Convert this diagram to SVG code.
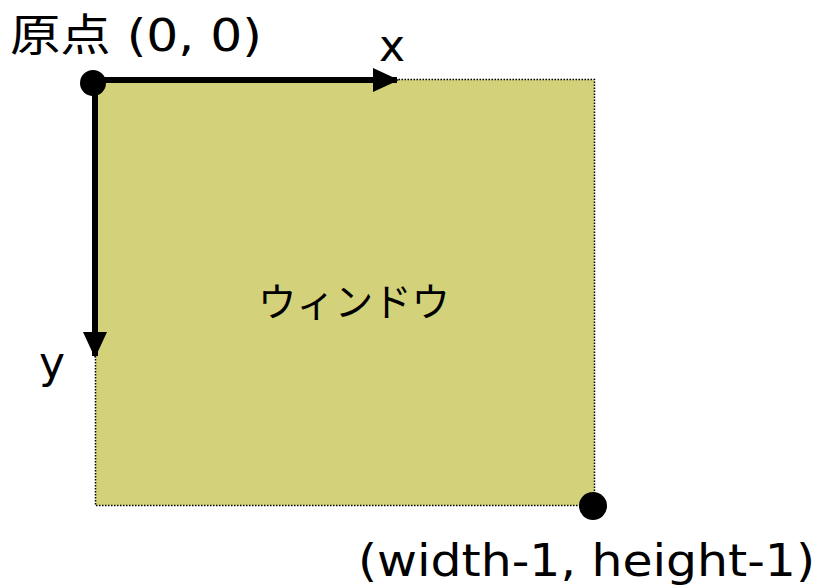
<svg xmlns="http://www.w3.org/2000/svg" width="822" height="585" viewBox="0 0 822 585">
<style>
text{font-family:"DejaVu Sans","Noto Sans CJK JP",sans-serif;fill:#000}
.lbl{font-size:44px}
</style>
<defs>
<marker id="ah" markerUnits="userSpaceOnUse" markerWidth="26" markerHeight="24" refX="24" refY="12" orient="auto">
<path d="M0,0 L26,12 L0,24 Z" fill="#000"/>
</marker>
</defs>
<g id="window">
<rect x="95.5" y="79.5" width="499" height="426" fill="#d3d27a" stroke="#000" stroke-width="1.5" stroke-dasharray="1.5,1.5"/>
<text x="258" y="316" font-size="39" textLength="192" lengthAdjust="spacingAndGlyphs">ウィンドウ</text>
</g>
<g id="connectors">
<line x1="95" y1="80" x2="397" y2="80" stroke="#000" stroke-width="6" marker-end="url(#ah)"/>
<line x1="95" y1="80" x2="95" y2="356" stroke="#000" stroke-width="6" marker-end="url(#ah)"/>
</g>
<g id="origin">
<circle cx="93" cy="83" r="13"/>
<text x="10" y="51" class="lbl" textLength="252" lengthAdjust="spacingAndGlyphs">原点 (0, 0)</text>
</g>
<g id="xlabel"><text x="379" y="61" class="lbl">x</text></g>
<g id="ylabel"><text x="39" y="378" class="lbl">y</text></g>
<g id="corner">
<circle cx="593" cy="506" r="14"/>
<text x="358" y="576" class="lbl" textLength="457" lengthAdjust="spacingAndGlyphs">(width-1, height-1)</text>
</g>
</svg>
